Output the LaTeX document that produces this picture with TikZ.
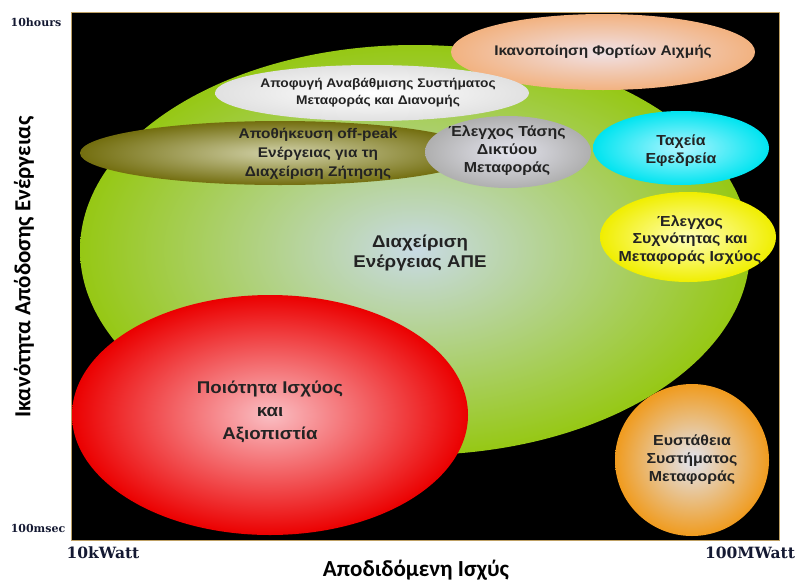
\documentclass[tikz,border=0pt]{standalone}
\usepackage{fontspec}
\setmainfont{Liberation Sans}[FakeStretch=1.1]
\newfontfamily\lblfont{DejaVu Serif}
\newfontfamily\axfont{Carlito}
\usetikzlibrary{shapes.geometric}
\definecolor{grn}{RGB}{150,200,20}
\definecolor{grnin}{RGB}{200,218,228}
\definecolor{redo}{RGB}{235,0,0}
\definecolor{redi}{RGB}{250,190,195}
\definecolor{orgo}{RGB}{240,155,30}
\definecolor{orgi}{RGB}{225,228,240}
\definecolor{peo}{RGB}{242,178,128}
\definecolor{pei}{RGB}{240,225,230}
\definecolor{whto}{RGB}{225,225,225}
\definecolor{olvo}{RGB}{115,110,15}
\definecolor{olvi}{RGB}{210,210,170}
\definecolor{gryo}{RGB}{175,175,175}
\definecolor{gryi}{RGB}{228,228,238}
\definecolor{cyno}{RGB}{0,228,240}
\definecolor{cyni}{RGB}{175,245,255}
\definecolor{ylwo}{RGB}{240,238,0}
\definecolor{ylwi}{RGB}{255,255,185}
\definecolor{txt}{RGB}{35,35,35}
\definecolor{bord}{RGB}{190,160,100}
\definecolor{lblc}{RGB}{20,25,50}
\tikzset{
  blob/.style={ellipse, shading=radial, inner sep=0pt, outer sep=0pt},
  blobtxt/.style={text=txt, align=center, inner sep=0pt, font=\bfseries\fontsize{14.5}{18}\selectfont},
  ticklbl/.style={text=lblc, font=\lblfont\bfseries\fontsize{11}{13}\selectfont, inner sep=0pt},
  axlbl/.style={text=lblc, font=\lblfont\bfseries\fontsize{15.5}{17}\selectfont, inner sep=0pt},
  axtitle/.style={text=black, font=\axfont\bfseries\fontsize{23}{25}\selectfont, inner sep=0pt}
}
\begin{document}
\begin{tikzpicture}[x=1pt,y=-1pt]
\useasboundingbox (0,0) rectangle (799,581);
\node[draw=bord, line width=0.8pt, fill=black, minimum width=708pt, minimum height=528pt, inner sep=0pt] (plot) at (425,276) {};
% big green
\node[blob, inner color=grnin, outer color=grn, minimum width=670pt, minimum height=410pt] (ape) at (415,250) {};
\node[blobtxt, font=\bfseries\fontsize{17}{20}\selectfont] (apet) at (420,253) {Διαχείριση\\Ενέργειας ΑΠΕ};
% red
\node[blob, inner color=redi, outer color=redo, minimum width=396pt, minimum height=240pt] (pq) at (270,415) {};
\node[blobtxt, font=\bfseries\fontsize{17}{23}\selectfont] (pqt) at (270,412) {Ποιότητα Ισχύος\\και\\Αξιοπιστία};
% orange circle
\node[blob, inner color=orgi, outer color=orgo, minimum width=154pt, minimum height=152pt] (stab) at (692,460) {};
\node[blobtxt] (stabt) at (692,460) {Ευστάθεια\\Συστήματος\\Μεταφοράς};
% peach
\node[blob, inner color=pei, outer color=peo, minimum width=304pt, minimum height=76pt] (peak) at (603,52) {};
\node[blobtxt, font=\bfseries\fontsize{14}{17}\selectfont] (peakt) at (603,52) {Ικανοποίηση Φορτίων Αιχμής};
% white
\node[blob, inner color=white, outer color=whto, minimum width=314pt, minimum height=56pt] (avoid) at (372,93) {};
\node[blobtxt, font=\bfseries\fontsize{12.5}{17}\selectfont] (avoidt) at (378,93) {Αποφυγή Αναβάθμισης Συστήματος\\Μεταφοράς και Διανομής};
% olive
\node[blob, inner color=olvi, outer color=olvo, minimum width=400pt, minimum height=64pt] (store) at (280,153) {};
\node[blobtxt, font=\bfseries\fontsize{14}{19}\selectfont] (storet) at (318,154) {Αποθήκευση off-peak\\Ενέργειας για τη\\Διαχείριση Ζήτησης};
% gray
\node[blob, inner color=gryi, outer color=gryo, minimum width=166pt, minimum height=72pt] (volt) at (508,152) {};
\node[blobtxt] (voltt) at (507,151) {Έλεγχος Τάσης\\Δικτύου\\Μεταφοράς};
% cyan
\node[blob, inner color=cyni, outer color=cyno, minimum width=176pt, minimum height=74pt] (res) at (681,148) {};
\node[blobtxt] (rest) at (681,151) {Ταχεία\\Εφεδρεία};
% yellow
\node[blob, inner color=ylwi, outer color=ylwo, minimum width=176pt, minimum height=90pt] (freq) at (688,237) {};
\node[blobtxt, font=\bfseries\fontsize{14.5}{17.5}\selectfont] (freqt) at (690,240) {Έλεγχος\\Συχνότητας και\\Μεταφοράς Ισχύος};
% axis labels
\node[ticklbl] (t10h) at (36,22) {10hours};
\node[ticklbl] (t100ms) at (38,528) {100msec};
\node[axlbl] (t10k) at (103,553) {10kWatt};
\node[axlbl] (t100M) at (750,553) {100MWatt};
\node[axtitle] (xt) at (416,570) {Αποδιδόμενη Ισχύς};
\node[axtitle, rotate=90] (yt) at (24,267) {Ικανότητα Απόδοσης Ενέργειας};
\end{tikzpicture}
\end{document}
